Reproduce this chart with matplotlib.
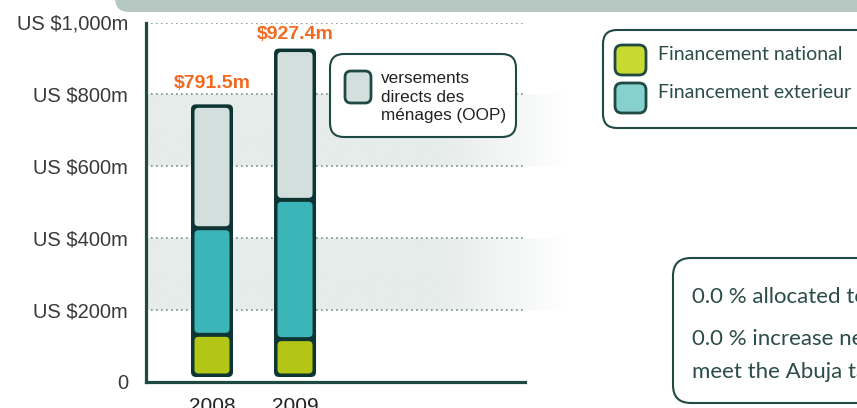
import numpy as np
import matplotlib.pyplot as plt
from matplotlib.patches import FancyBboxPatch
from matplotlib.colors import to_rgb

# data
years = ['2008', '2009']
national = [130, 118]
external = [297, 388]
oop = [345, 421.4]
total_labels = ['$791.5m', '$927.4m']
label_values = [791.5, 927.4]
yticks = [0, 200, 400, 600, 800, 1000]
ytick_labels = ['0', 'US $200m', 'US $400m', 'US $600m', 'US $800m', 'US $1,000m']
bands = [(200, 400), (600, 800)]

# colours
dark = '#0e3433'
line_col = '#1f4a44'
c_nat, c_ext, c_oop = '#b3c515', '#3cb5b8', '#d3dfdd'
sw_nat, sw_ext = '#c8da2f', '#86d0cd'
narrow = ['Liberation Sans', 'DejaVu Sans']
body = ['Lato', 'DejaVu Sans']
txt_col = '#2b4c47'

W, H = 857, 408
fig = plt.figure(figsize=(W / 100, H / 100), dpi=100)

# main chart axes, placed in pixel terms
ax_l, ax_r, y0, y1 = 146, 525, 381.5, 22.5
ax = fig.add_axes([ax_l / W, (H - y0) / H, (ax_r - ax_l) / W, (y0 - y1) / H], zorder=1)
ax.patch.set_alpha(0)
xmin, xmax = -0.795, 3.77
xpp = (xmax - xmin) / (ax_r - ax_l)   # x units per pixel
ypp = 1000 / (y0 - y1)                # y units per pixel
aspect = ypp / xpp

# shaded bands fading out to the right
N = 200
px = np.linspace(ax_l, 570, N)
alpha = np.clip((570 - px) / (570 - 440), 0, 1)
rgba = np.zeros((1, N, 4))
rgba[..., :3] = to_rgb('#e6ecea')
rgba[..., 3] = alpha
for lo, hi in bands:
    ax.imshow(rgba, extent=(xmin, xmin + (570 - ax_l) * xpp, lo, hi), aspect='auto',
              clip_on=False, zorder=0, interpolation='bilinear')

# stacked rounded bars
half = 0.253
for i in range(len(years)):
    segs = [national[i], external[i], oop[i]]
    cols = [c_nat, c_ext, c_oop]
    tot = sum(segs)
    base = 4.5 * ypp
    ax.add_patch(FancyBboxPatch((i - half, base), 2 * half, tot - base,
                                boxstyle=f'round,pad=0,rounding_size={5 * xpp}',
                                mutation_aspect=aspect, fc=dark, ec='none', zorder=3))
    lo = base
    cum = 0
    for v, c in zip(segs, cols):
        cum += v
        g_lo = 3.5 * ypp if lo == base else 2 * ypp
        g_hi = 3.5 * ypp if cum == tot else 2 * ypp
        ax.add_patch(FancyBboxPatch((i - half + 3.5 * xpp, lo + g_lo), 2 * half - 7 * xpp,
                                    cum - lo - g_lo - g_hi,
                                    boxstyle=f'round,pad=0,rounding_size={4 * xpp}',
                                    mutation_aspect=aspect, fc=c, ec='none', zorder=4))
        lo = cum
    ax.text(i, label_values[i] + 38, total_labels[i], ha='center', va='center',
            color='#f26a21', fontsize=14, fontweight='bold', family=narrow, zorder=5)

ax.set_xlim(xmin, xmax)
ax.set_ylim(0, 1000)
ax.set_yticks(yticks, ytick_labels)
ax.set_xticks(range(len(years)), years)
ax.tick_params(length=0, labelsize=14.5, labelcolor='#3a3a3a')
ax.tick_params(axis='y', pad=13)
ax.tick_params(axis='x', pad=11, labelsize=15, labelcolor='#222222')
for lab in ax.get_xticklabels() + ax.get_yticklabels():
    lab.set_family(narrow)
for y in yticks[1:]:
    ax.axhline(y, color='#6f9489', lw=1.2, ls=(0, (1, 2)), zorder=1)
for s in ['top', 'right']:
    ax.spines[s].set_visible(False)
for s in ['left', 'bottom']:
    ax.spines[s].set_color(line_col)
    ax.spines[s].set_linewidth(2.3)
    ax.spines[s].set_capstyle('projecting')

# overlay in pixel coordinates for the banner, legends and note box
ov = fig.add_axes([0, 0, 1, 1], zorder=3)
ov.set_xlim(0, W)
ov.set_ylim(H, 0)
ov.axis('off')
ov.patch.set_alpha(0)

def rbox(x, y, w, h, r, **kw):
    ov.add_patch(FancyBboxPatch((x, y), w, h, boxstyle=f'round,pad=0,rounding_size={r}', **kw))

rbox(115, -40, 800, 52, 14, fc='#b6c8c1', ec='none')

# OOP legend
rbox(330, 54, 186, 83, 14, fc='white', ec=line_col, lw=1.5)
rbox(345, 71, 26, 32, 6, fc=c_oop, ec=line_col, lw=2)
ov.text(381, 97, 'versements\ndirects des\nménages (OOP)', ha='left', va='center',
        fontsize=12.3, family=narrow, color='#222222', linespacing=1.3)

# funding legend
rbox(603, 30, 300, 98, 14, fc='white', ec=line_col, lw=1.5)
rbox(615, 45, 31, 30, 7, fc=sw_nat, ec=line_col, lw=2)
rbox(615, 83, 31, 30, 7, fc=sw_ext, ec=line_col, lw=2)
ov.text(658, 55, 'Financement national', fontsize=14, family=body, color=txt_col, va='center')
ov.text(658, 93, 'Financement exterieur', fontsize=14, family=body, color=txt_col, va='center')

# note box
rbox(673, 258, 300, 145, 18, fc='white', ec=line_col, lw=1.5)
ov.text(692, 297, '0.0 % allocated to health', fontsize=16, family=body, color=txt_col, va='center')
ov.text(692, 339, '0.0 % increase needed to', fontsize=16, family=body, color=txt_col, va='center')
ov.text(692, 372, 'meet the Abuja target', fontsize=16, family=body, color=txt_col, va='center')

fig.savefig('out.png', dpi=100)
